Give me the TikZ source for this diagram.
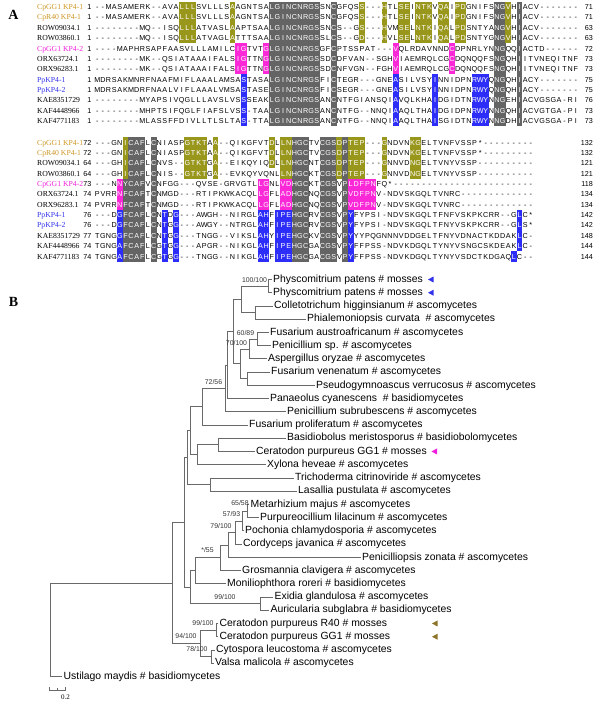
\documentclass[tikz,border=0pt]{standalone}
\usepackage{fontspec}
\setmainfont{Liberation Sans}
\newfontfamily\timesfont{Liberation Serif}

\definecolor{alnOlive}{RGB}{153,150,28}
\definecolor{alnMagenta}{RGB}{250,40,215}
\definecolor{alnBlue}{RGB}{45,45,250}
\definecolor{alnGray}{RGB}{100,100,100}
\definecolor{nameGold}{RGB}{205,150,35}
\definecolor{nameMagenta}{RGB}{240,30,220}
\definecolor{nameBlue}{RGB}{50,50,235}
\definecolor{markOlive}{RGB}{140,115,40}
\definecolor{treeLine}{RGB}{105,105,105}

% grid of the alignment (left edge, cell width, row height)
\def\alnx{94.5}
\def\alnw{5.63}
\def\alnh{10.35}

\tikzset{
  res/.style={font=\fontsize{7.2}{8}\selectfont, inner sep=0pt, text height=5.3pt, text depth=0pt, anchor=center},
  seqname/.style={font=\timesfont\fontsize{7.7}{9}\selectfont, inner sep=0pt, anchor=west, text height=5.3pt, text depth=0pt},
  seqnum/.style={font=\fontsize{7.2}{8}\selectfont, inner sep=0pt, anchor=east, text height=5.3pt, text depth=0pt},
  panel/.style={font=\timesfont\bfseries\fontsize{14}{16}\selectfont, inner sep=0pt},
  branch/.style={draw=treeLine, line width=0.8pt},
  leaf/.style={font=\fontsize{10.4}{12}\selectfont, anchor=west, inner sep=1.5pt, text height=7.6pt, text depth=2.2pt},
  boot/.style={font=\fontsize{6.9}{8}\selectfont, text=black!80, inner sep=0pt},
}

% shade cells (rows, first column, last column, colour) and flag them
\newcommand{\hlcell}[4]{%
  \foreach \rowno in {#1}{%
    \foreach \colno in {#2,...,#3}{%
      \fill[#4] ({\alnx+\colno*\alnw-0.1},{\csname ry@\rowno\endcsname-\alnh/2-0.1}) rectangle ++(\alnw+0.2,\alnh+0.2);
      \expandafter\gdef\csname hl@\rowno @\colno\endcsname{}%
    }}}

% write one aligned sequence, one letter per cell
\newcount\colidx
\newcommand{\seqrow}[2]{\def\rowno{#1}\colidx=0 \seqnext#2\relax}
\def\seqnext#1{%
  \ifx#1\relax\else
    \ifcsname hl@\rowno @\the\colidx\endcsname\def\rescol{white}\else\def\rescol{black}\fi
    \node[res,text=\rescol] (r\rowno c\the\colidx) at ({\alnx+(\the\colidx+0.5)*\alnw},{\csname ry@\rowno\endcsname}) {#1};%
    \advance\colidx by 1
    \expandafter\seqnext
  \fi}

\begin{document}
\begin{tikzpicture}[x=1pt,y=-1pt]
  \useasboundingbox (0,0) rectangle (600,708);

  % Row positions of the two alignment blocks
  \foreach \rowno in {1,...,12}{\pgfmathsetmacro\tmpy{7+10.35*(\rowno-1)}\expandafter\xdef\csname ry@\rowno\endcsname{\tmpy}}
  \foreach \rowno in {13,...,24}{\pgfmathsetmacro\tmpy{142.5+10.35*(\rowno-13)}\expandafter\xdef\csname ry@\rowno\endcsname{\tmpy}}

  % Panel letters
  \node[panel] (pA) at (13.5,15) {A};
  \node[panel] (pB) at (13.5,302) {B};

  % Shading of the first block
  \foreach \a/\b in {31/39,42/42,71/72,75/75} \hlcell{1,...,12}{\a}{\b}{alnGray};
  \foreach \a/\b in {15/17,24/24,47/47,51/51,54/55,57/59,61/62,64/65,73/73} \hlcell{1,...,4}{\a}{\b}{alnOlive};
  \foreach \a/\b in {25/26,30/30,53/53,63/63} \hlcell{5,...,7}{\a}{\b}{alnMagenta};
  \foreach \a/\b in {26/26,53/53,60/60,67/69} \hlcell{8,...,12}{\a}{\b}{alnBlue};

  % Shading of the second block
  \foreach \a/\b in {6/8,10/10,35/37,40/42,44/44} \hlcell{13,...,24}{\a}{\b}{alnGray};
  \hlcell{17,...,24}{5}{5}{alnGray};
  \foreach \a/\b in {5/5,16/19,21/21,33/34,43/43,45/47,51/51,56/57} \hlcell{13,...,16}{\a}{\b}{alnOlive};
  \hlcell{13,...,15}{31}{31}{alnOlive};
  \foreach \a/\b in {4/4,29/30,33/34,45/49} \hlcell{17,...,19}{\a}{\b}{alnMagenta};
  \foreach \a/\b in {4/4,12/12,14/14,29/30,32/34,45/45} \hlcell{20,...,24}{\a}{\b}{alnBlue};
  \hlcell{20,...,23}{75}{75}{alnBlue};
  \hlcell{24}{74}{74}{alnBlue};

  % Sequence names and residue numbers
  \foreach \rowno/\nm/\nc/\st/\en in {
    1/CpGG1 KP4-1/nameGold/1/71, 2/CpR40 KP4-1/nameGold/1/71,
    3/ROW09034.1/black/1/63, 4/ROW03860.1/black/1/63,
    5/CpGG1 KP4-2/nameMagenta/1/72, 6/ORX63724.1/black/1/73,
    7/ORX96283.1/black/1/73, 8/PpKP4-1/nameBlue/1/75,
    9/PpKP4-2/nameBlue/1/75, 10/KAE8351729/black/1/76,
    11/KAF4448966/black/1/73, 12/KAF4771183/black/1/73,
    13/CpGG1 KP4-1/nameGold/72/132, 14/CpR40 KP4-1/nameGold/72/132,
    15/ROW09034.1/black/64/121, 16/ROW03860.1/black/64/121,
    17/CpGG1 KP4-2/nameMagenta/73/118, 18/ORX63724.1/black/74/134,
    19/ORX96283.1/black/74/134, 20/PpKP4-1/nameBlue/76/142,
    21/PpKP4-2/nameBlue/76/142, 22/KAE8351729/black/77/148,
    23/KAF4448966/black/74/144, 24/KAF4771183/black/74/144}{
    \node[seqname,text=\nc] (nm\rowno) at (37,{\csname ry@\rowno\endcsname}) {\nm};
    \node[seqnum] (st\rowno) at (91.5,{\csname ry@\rowno\endcsname}) {\st};
    \node[seqnum] (en\rowno) at (593,{\csname ry@\rowno\endcsname}) {\en};
  }

  % First block of the alignment
  \seqrow{1}{--MASAMERK--AVALLLSVLLLSAAGNTSALGINCNRGSSNCGFQSS---HTLSEINTKVQAIPDGNIFSNGVHIACV-------}
  \seqrow{2}{--MASAMERK--AVALLLSVLLLSAAGNTSALGINCNRGSSNCGFQSS---HTLSEINTKVQAIPDGNIFSNGVHIACV-------}
  \seqrow{3}{--------MQ--ISQLLLATVASLAAPTSAALGINCNRGSSNCS--GS---HVMSELNTKIQALPDSNTYANGVHIACV-------}
  \seqrow{4}{--------MQ--ISQLLLATVAGLATTTSAALGINCNRGSSLCS--GD---HVLSELNTKIQALPDSNTYGNGVHIACV-------}
  \seqrow{5}{----MAPHRSAPFAASVLLLAMILCIGTVTGLGINCNRGSGFCPTSSPAT---VQLRDAVNNDCDPNRLYNNGQQIACTD------}
  \seqrow{6}{--------MK--QSIATAAAIFALSIGTTNGLGINCNRGSSDCDFVAN--SGHVIAEMRQLCGCDQNQQFSNGQHIITVNEQITNF}
  \seqrow{7}{--------MK--QSIATAAAIFALSIGTTNGLGINCNRGSSDCNFVGN--FGHVIAEMRQLCGCDQNQQFSNGQHIITVNEQITNF}
  \seqrow{8}{MDRSAKMNRFNAAFMIFLAAALAMSASTASALGINCNRGSFICTEGR---GNEASILVSYINNIDPNRWYQNGQHIACY-------}
  \seqrow{9}{MDRSAKMDRFNAALVIFLAAALVMSASTASELGINCNRGSFICSEGR---GNEASILVSYINNIDPNRWYQNGQHIACY-------}
  \seqrow{10}{--------MYAPSIVQGLLLAVSLVSSSEAKLGINCNRGSANCNTFGIANSQIAVQLKHAIDGIDTNRWYNNGEHIACVGSGA-RI}
  \seqrow{11}{--------MHPTSIFQGLFIAFSLVSS-TAALGINCNRGSANCNTFG--NNQIAAQLTHAIDGIDPNRWYNNGQHIACVGTGA-PI}
  \seqrow{12}{--------MLASSFFDIVLLTLSLTAS-TTALGINCNRGSANCNTFG--NNQIAAQLTHAISGIDTNRWYNNGDHIACVGSGA-PI}

  % Second block of the alignment
  \seqrow{13}{---GNICAFLCNIASPGTKTAA--QIKGFVTDLLNHGCTVCGSDPTEP---GNDVNKGELTVNFVSSP*---------}
  \seqrow{14}{---GNICAFLCNIASPGTKTAA--QIKGFVTDLLNHGCTVCGSDPTEP---GNDVNKGELTVNFVSSP*---------}
  \seqrow{15}{---GHICAFLCNVS--GTKTGA--EIKQYIQDLLNHGCNTCGSDPTEP---GNNVDNGELTVNYVSSP----------}
  \seqrow{16}{---GHICAFLCNIS--GTKTGA--EVKQYVQNLLNHGCKTCGSDPTEP---GNNVDNGELTVNYVSSP----------}
  \seqrow{17}{---NNYCAFVCNFGG---QVSE-GRVGTLLGNLVDHGCKTCGSVPLDFPNFQ*-------------------------}
  \seqrow{18}{PVRRNFCAFTCNMGD---RTIPKWKACQLLGFLADHGCNQCGSVPVDFPNV-NDVSKGQLTVNRC-------------}
  \seqrow{19}{PVRRNFCAFTCNMGD---RTIPKWKACQLLGFLADHGCNQCGSVPVDFPNV-NDVSKGQLTVNRC-------------}
  \seqrow{20}{---DGFCAFLCNTDG---AWGH--NIRGLAHFIPEHGCRVCGSVPYFYPSI-NDVSKGQLTFNFVSKPKCRR--GLC*}
  \seqrow{21}{---DGFCAFLCNTGG---AWGY--NTRGLAHFIPEHGCRVCGSVPYFYPSI-NDVSKGQLTFNYVSKPKCRR--GLS*}
  \seqrow{22}{TGNGGFCAFLCNTGG---TNGG--VIKSLAHYIPEHGCKVCGSVPYYYPQGNNNVDDGELTFNYVDNACTKDDAKLC-}
  \seqrow{23}{TGNGAFCAFLCGTGG---APGR--NIKGLAHFIPEHGCGACGSVPYFFPSS-NDVKDGQLTYNYVSNGCSKDEAKLC-}
  \seqrow{24}{TGNGAFCAFLCGTGG---TNGG--NIKGLAHFIPEHGCGACGSVPYFFPSS-NDVKDGQLTYNYVSDCTKDGAQLC--}

  % Leaves of the tree
  \node[leaf] (l1) at (271.5,279.5) {Physcomitrium patens \# mosses};
  \node[leaf] (l2) at (271.5,292.73) {Physcomitrium patens \# mosses};
  \node[leaf] (l3) at (272.5,305.96) {Colletotrichum higginsianum \# ascomycetes};
  \node[leaf] (l4) at (305.5,319.19) {Phialemoniopsis curvata\ \ \# ascomycetes};
  \node[leaf] (l5) at (268.5,332.42) {Fusarium austroafricanum \# ascomycetes};
  \node[leaf] (l6) at (270.5,345.65) {Penicillium sp. \# ascomycetes};
  \node[leaf] (l7) at (266.5,358.88) {Aspergillus oryzae \# ascomycetes};
  \node[leaf] (l8) at (269.5,372.11) {Fusarium venenatum \# ascomycetes};
  \node[leaf] (l9) at (314.5,385.34) {Pseudogymnoascus verrucosus \# ascomycetes};
  \node[leaf] (l10) at (268.5,398.57) {Panaeolus cyanescens\ \ \# basidiomycetes};
  \node[leaf] (l11) at (285.5,411.80) {Penicillium subrubescens \# ascomycetes};
  \node[leaf] (l12) at (247.5,425.03) {Fusarium proliferatum \# ascomycetes};
  \node[leaf] (l13) at (285.5,438.26) {Basidiobolus meristosporus \# basidiobolomycetes};
  \node[leaf] (l14) at (254.5,451.49) {Ceratodon purpureus GG1 \# mosses};
  \node[leaf] (l15) at (265.5,464.72) {Xylona heveae \# ascomycetes};
  \node[leaf] (l16) at (293.5,477.95) {Trichoderma citrinoviride \# ascomycetes};
  \node[leaf] (l17) at (296.5,491.18) {Lasallia pustulata \# ascomycetes};
  \node[leaf] (l18) at (249,504.41) {Metarhizium majus \# ascomycetes};
  \node[leaf] (l19) at (258.5,517.64) {Purpureocillium lilacinum \# ascomycetes};
  \node[leaf] (l20) at (243.5,530.87) {Pochonia chlamydosporia \# ascomycetes};
  \node[leaf] (l21) at (241.5,544.10) {Cordyceps javanica \# ascomycetes};
  \node[leaf] (l22) at (360.5,557.33) {Penicilliopsis zonata \# ascomycetes};
  \node[leaf] (l23) at (240.5,570.56) {Grosmannia clavigera \# ascomycetes};
  \node[leaf] (l24) at (225.5,583.79) {Moniliophthora roreri \# basidiomycetes};
  \node[leaf] (l25) at (273,597.02) {Exidia glandulosa \# ascomycetes};
  \node[leaf] (l26) at (269,610.25) {Auricularia subglabra \# basidiomycetes};
  \node[leaf] (l27) at (217.8,623.48) {Ceratodon purpureus R40 \# mosses};
  \node[leaf] (l28) at (217.8,636.71) {Ceratodon purpureus GG1 \# mosses};
  \node[leaf] (l29) at (214.5,649.94) {Cytospora leucostoma \# ascomycetes};
  \node[leaf] (l30) at (213.5,663.17) {Valsa malicola \# ascomycetes};
  \node[leaf] (l31) at (62,676.40) {Ustilago maydis \# basidiomycetes};

  % Inner nodes of the tree
  \coordinate (nP) at (268,286.12);
  \coordinate (nC) at (255,312.58);
  \coordinate (nA) at (241,299.35);
  \coordinate (nF1) at (257,339.04);
  \coordinate (nF2) at (249,348.96);
  \coordinate (nV) at (247,378.73);
  \coordinate (nF3) at (240,363.84);
  \coordinate (nAF) at (233,331.6);
  \coordinate (nX) at (227.5,365.08);
  \coordinate (nW) at (225.5,388.44);
  \coordinate (nZ) at (202,406.74);
  \coordinate (nBC) at (218,444.88);
  \coordinate (nBCX) at (197,454.8);
  \coordinate (nG1) at (190,430.77);
  \coordinate (nTL) at (210,484.57);
  \coordinate (nG2) at (187,457.67);
  \coordinate (nMP) at (247,511.03);
  \coordinate (nMPP) at (242,520.95);
  \coordinate (nMPPC) at (235,532.53);
  \coordinate (nQ) at (228,544.93);
  \coordinate (nR) at (220,557.75);
  \coordinate (nS) at (195,570.77);
  \coordinate (nEA) at (260,603.64);
  \coordinate (nT) at (190,587.2);
  \coordinate (nU) at (184.5,522.44);
  \coordinate (nCC) at (216.5,630.1);
  \coordinate (nCV2) at (211,656.56);
  \coordinate (nCV) at (200,643.33);
  \coordinate (nI) at (172,582.9);
  \coordinate (nRoot) at (50,629.65);

  % Branches
  \foreach \p/\c in {nP/l1,nP/l2,nC/l3,nC/l4,nA/nP,nA/nC,nF1/l5,nF1/l6,nF2/nF1,nF2/l7,
      nV/l8,nV/l9,nF3/nF2,nF3/nV,nAF/nA,nAF/nF3,nX/nAF,nX/l10,nW/nX,nW/l11,nZ/nW,nZ/l12,
      nBC/l13,nBC/l14,nBCX/nBC,nBCX/l15,nG1/nZ,nG1/nBCX,nTL/l16,nTL/l17,nG2/nG1,nG2/nTL,
      nMP/l18,nMP/l19,nMPP/nMP,nMPP/l20,nMPPC/nMPP,nMPPC/l21,nQ/nMPPC,nQ/l22,nR/nQ,nR/l23,
      nS/nR,nS/l24,nEA/l25,nEA/l26,nT/nS,nT/nEA,nU/nG2,nU/nT,nCC/l27,nCC/l28,nCV2/l29,nCV2/l30,
      nCV/nCC,nCV/nCV2,nI/nU,nI/nCV,nRoot/nI,nRoot/l31}
    \draw[branch] (\p) |- (\c);

  % Bootstrap values
  \node[boot] (b1) at (254.5,280) {100/100};
  \node[boot] (b2) at (245.5,333) {60/89};
  \node[boot] (b3) at (236.5,343) {70/100};
  \node[boot] (b4) at (213.5,382) {72/56};
  \node[boot] (b5) at (240,503) {65/58};
  \node[boot] (b6) at (231.5,514) {57/93};
  \node[boot] (b7) at (221,526) {79/100};
  \node[boot] (b8) at (207.5,550.5) {*/55};
  \node[boot] (b9) at (225,597) {99/100};
  \node[boot] (b10) at (203,623) {99/100};
  \node[boot] (b11) at (186,636.5) {94/100};
  \node[boot] (b12) at (197,649.5) {78/100};

  % Markers for the KP4 sequences
  \fill[nameBlue] (428,279.5) -- ++(5.5,-3) -- ++(0,6) -- cycle;
  \fill[nameBlue] (428,292.73) -- ++(5.5,-3) -- ++(0,6) -- cycle;
  \fill[nameMagenta] (431.5,451.49) -- ++(5.5,-3) -- ++(0,6) -- cycle;
  \fill[markOlive] (432,623.48) -- ++(5.5,-3) -- ++(0,6) -- cycle;
  \fill[markOlive] (432,636.71) -- ++(5.5,-3) -- ++(0,6) -- cycle;

  % Scale bar
  \coordinate (sbL) at (49,690.5);
  \coordinate (sbM) at (57,690.5);
  \coordinate (sbR) at (65,690.5);
  \draw[branch,line width=0.6pt] (sbL) ++(0,-3.5) -- (sbL) -- (sbR) -- ++(0,-3.5);
  \draw[branch,line width=0.6pt] (sbM) -- ++(0,-2.5);
  \node[font=\timesfont\fontsize{7}{8}\selectfont, inner sep=0pt] (sbT) at (65.5,697.5) {0.2};
\end{tikzpicture}
\end{document}
